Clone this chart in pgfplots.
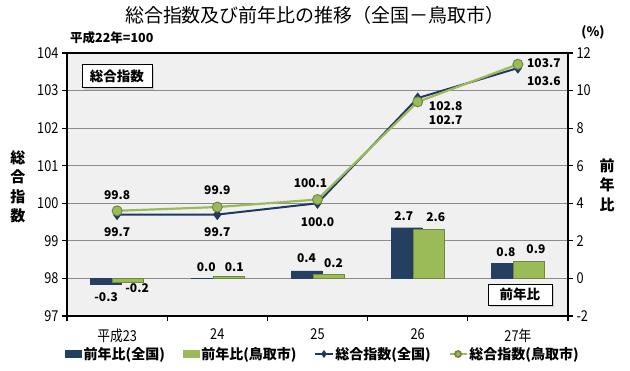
\documentclass[border=0pt]{standalone}
\usepackage{pgfplots}
\pgfplotsset{compat=1.18}
\usepackage{pgfplotstable}
\usepackage{fontspec}
\setmainfont{Noto Sans CJK JP}
\newfontfamily\narrowfont[FakeStretch=0.85]{Noto Sans CJK JP}
\usetikzlibrary{shadows}
\definecolor{navy}{HTML}{243F60}
\definecolor{navyline}{HTML}{1F3864}
\definecolor{grn}{HTML}{9BBB59}
\definecolor{grndark}{HTML}{71893F}
\definecolor{plotbg}{HTML}{F0F0F0}
\definecolor{gridc}{HTML}{8C8C8C}

\pgfplotstableread{
x y dx dy
0 -0.3 -11 -13
1 0.0 -11 11
2 0.4 -11 13
3 2.7 -14 12
4 0.8 -12 11
}\barzenkoku
\pgfplotstableread{
x y dx dy
0 -0.2 20 -6
1 0.1 17 9
2 0.2 16 12
3 2.6 18 12
4 0.9 18 12
}\bartottori
\pgfplotstableread{
x y dx dy
0 99.7 0 -18
1 99.7 0 -18
2 100.0 0 -19
3 102.8 28 -8
4 103.6 26 -13
}\idxzenkoku
\pgfplotstableread{
x y dx dy
0 99.8 0 16
1 99.9 0 17
2 100.1 -7 16
3 102.7 28 -18
4 103.7 26 1
}\idxtottori

\pgfplotsset{
  /pgf/number format/assume math mode=true,
  common/.style={
    scale only axis, width=501pt, height=263pt,
    at={(0pt,0pt)}, anchor=south west,
    xmin=-0.5, xmax=4.5,
    clip=false,
    tick align=outside,
    major tick length=5pt,
    major tick style={line width=1.2pt, black},
    axis line style={line width=1.5pt, black},
    tick label style={font=\narrowfont\fontsize{15}{15}\selectfont},
  },
  lbl/.style={
    visualization depends on={\thisrow{dx}\as\mydx},
    visualization depends on={\thisrow{dy}\as\mydy},
    nodes near coords={\pgfmathprintnumber[fixed,fixed zerofill,precision=1]{\pgfplotspointmeta}},
    every node near coord/.append style={anchor=center, xshift=\mydx pt, yshift=\mydy pt,
      font=\bfseries\fontsize{12}{12}\selectfont, inner sep=0pt, black},
  },
}

\begin{document}
\begin{tikzpicture}
\path[use as bounding box] (-67pt,-54pt) rectangle (563pt,316pt);
% right axis: bars
\begin{axis}[common,
  ymin=-2, ymax=12, ytick={-2,0,...,12},
  ytick pos=right, yticklabel pos=right,
  xtick=\empty,
  axis background/.style={fill=plotbg},
  ymajorgrids, grid style={gridc, line width=0.8pt},
]
\addplot[ybar, bar width=31pt, bar shift=-11pt, fill=navy, draw=navy, lbl] table[x=x,y=y] {\barzenkoku};
\addplot[ybar, bar width=31pt, bar shift=11pt, fill=grn, draw=grndark, lbl] table[x=x,y=y] {\bartottori};
\end{axis}
% left axis: index lines
\begin{axis}[common,
  ymin=97, ymax=104, ytick={97,...,104},
  ytick pos=left,
  xtick={-0.5,0.5,...,4.5}, xtick pos=bottom,
  x tick label as interval,
  xticklabels={平成23,24,25,26,27年},
  xticklabel style={yshift=-4pt},
  legend style={at={(0.511,-0.1445)}, anchor=center, legend columns=4,
    draw=none, fill=none, font=\bfseries\fontsize{14}{14}\selectfont,
    /tikz/every even column/.append style={column sep=16pt},
    legend cell align=left},
]
\addlegendimage{legend image code/.code={\fill[navy] (0pt,-3.5pt) rectangle (16pt,3.5pt);}}
\addlegendentry{前年比(全国)}
\addlegendimage{legend image code/.code={\fill[grn] (0pt,-3.5pt) rectangle (16pt,3.5pt);}}
\addlegendentry{前年比(鳥取市)}
\addlegendimage{navyline, line width=1.8pt, mark=diamond*, mark size=2.5pt}
\addlegendentry{総合指数(全国)}
\addlegendimage{grn, line width=1.8pt, mark=*, mark size=3pt, mark options={fill=grn, draw=grndark}}
\addlegendentry{総合指数(鳥取市)}
\addplot[forget plot, navyline, line width=2pt, mark=diamond*, mark size=4pt, mark options={fill=navyline, draw=navyline}, lbl] table[x=x,y=y] {\idxzenkoku};
\addplot[forget plot, grn, line width=2.2pt, mark=*, mark size=5pt, mark options={fill=grn, draw=grndark, line width=1pt}, lbl] table[x=x,y=y] {\idxtottori};
\node[draw=black, line width=0.8pt, fill=white, drop shadow={shadow xshift=2pt, shadow yshift=-2pt, fill=gray!60},
  minimum width=70pt, minimum height=23pt, inner sep=0pt, font=\bfseries\fontsize{13.5}{13.5}\selectfont]
  at (rel axis cs:0.0998,0.9125) {総合指数};
\node[draw=black, line width=0.8pt, fill=white, drop shadow={shadow xshift=2pt, shadow yshift=-2pt, fill=gray!60},
  minimum width=64pt, minimum height=21pt, inner sep=0pt, font=\bfseries\fontsize{13.5}{13.5}\selectfont]
  at (rel axis cs:0.904,0.0817) {前年比};
\end{axis}
% outer texts
\node[font=\fontsize{19}{19}\selectfont, inner sep=0pt] at (248pt,301pt) {総合指数及び前年比の推移（全国－鳥取市）};
\node[font=\bfseries\fontsize{12.5}{12.5}\selectfont, anchor=west, inner sep=0pt] at (3pt,278pt) {平成22年=100};
\node[font=\bfseries\fontsize{13}{13}\selectfont, inner sep=0pt] at (526pt,284pt) {(\%)};
\node[font=\bfseries\fontsize{15}{19.5}\selectfont, align=center, inner sep=0pt] at (-49pt,129pt) {総\\合\\指\\数};
\node[font=\bfseries\fontsize{15}{19.5}\selectfont, align=center, inner sep=0pt] at (540pt,131pt) {前\\年\\比};
\end{tikzpicture}
\end{document}
